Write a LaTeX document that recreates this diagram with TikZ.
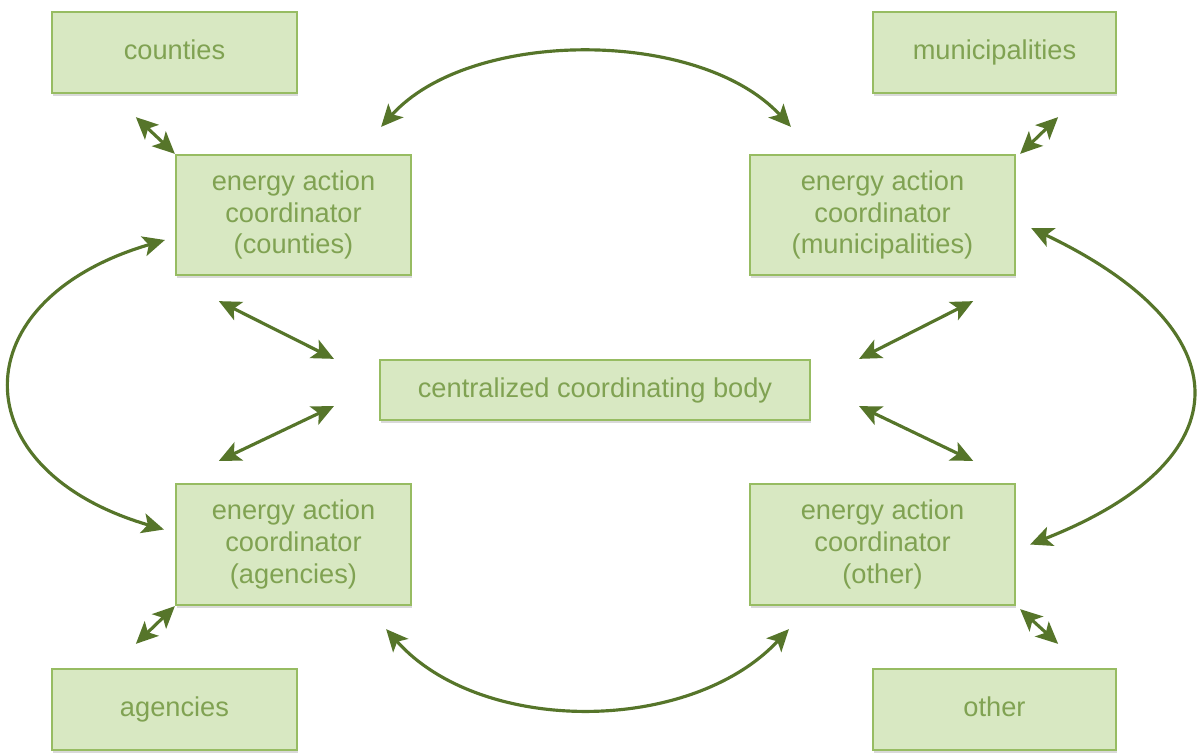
\documentclass[tikz,border=0pt]{standalone}
\usepackage{fontspec}
\setmainfont{Liberation Sans}
\usetikzlibrary{arrows.meta,shadows}

\definecolor{boxfill}{HTML}{D8E8C2}
\definecolor{boxline}{HTML}{97BC62}
\definecolor{boxtext}{HTML}{80A252}
\definecolor{arrowcol}{HTML}{56752A}

\tikzset{
    box/.style={draw=boxline, fill=boxfill, line width=1.3pt, text=boxtext,
        align=center, inner sep=2pt, font=\fontsize{15.5}{18}\selectfont,
        drop shadow={shadow xshift=0.6pt, shadow yshift=-1.6pt, opacity=0.3}},
    single/.style={box, text height=1.75ex, text depth=0.3ex,
        minimum height=1.62cm},
    link/.style={draw=arrowcol, line width=1.8pt,
        {Stealth[length=12.5pt,width=11.5pt,inset=3pt]}-{Stealth[length=12.5pt,width=11.5pt,inset=3pt]}}
}

\begin{document}
\begin{tikzpicture}[x=0.02cm, y=-0.02cm]

        \useasboundingbox (0,0) rectangle (1202,756);

        % Outer boxes
        \node[single, minimum width=4.9cm] (cnty) at (174.5,52.5) {counties};
        \node[single, minimum width=4.86cm] (muni) at (994.5,52.5) {municipalities};
        \node[single, minimum width=4.9cm] (agen) at (174.5,709.5) {agencies};
        \node[single, minimum width=4.86cm] (othr) at (994.5,709.5) {other};

        % Coordinators
        \node[box, minimum width=4.7cm, minimum height=2.4cm] (eacc) at (293.5,215) {energy action\\coordinator\\(counties)};
        \node[box, minimum width=5.3cm, minimum height=2.4cm] (eacm) at (882.5,215) {energy action\\coordinator\\(municipalities)};
        \node[box, minimum width=4.7cm, minimum height=2.42cm] (eaca) at (293.5,544.5) {energy action\\coordinator\\(agencies)};
        \node[box, minimum width=5.3cm, minimum height=2.42cm] (eaco) at (882.5,544.5) {energy action\\coordinator\\(other)};

        % Central body
        \node[box, minimum width=8.6cm, minimum height=1.2cm] (cent) at (595,390) {centralized coordinating body};

        % Short arrows
        \draw[link] ([shift={(85,23)}]cnty.south west) -- (eacc.north west);
        \draw[link] ([shift={(-59,23)}]muni.south east) -- ([shift={(4,0)}]eacm.north east);
        \draw[link] ([shift={(85,-24)}]agen.north west) -- (eaca.south west);
        \draw[link] ([shift={(-59,-24)}]othr.north east) -- ([shift={(4,3)}]eaco.south east);

        % To the central body
        \draw[link] ([shift={(44,25)}]eacc.south west) -- ([shift={(-45,0)}]cent.north west);
        \draw[link] ([shift={(44,-22)}]eaca.north west) -- ([shift={(-45,-15)}]cent.south west);
        \draw[link] ([shift={(-43,25)}]eacm.south east) -- ([shift={(48,0)}]cent.north east);
        \draw[link] ([shift={(-43,-22)}]eaco.north east) -- ([shift={(48,-15)}]cent.south east);

        % Curved arrows
        \draw[link] ([shift={(-31,-27)}]eacc.north east) .. controls (470,28) and (700,28) .. ([shift={(42,-27)}]eacm.north west);
        \draw[link] ([shift={(-26,23)}]eaca.south east) .. controls (480,735) and (690,735) .. ([shift={(40,23)}]eaco.south west);
        \draw[link] ([shift={(-10,25)}]eacc.west) .. controls (-40,300) and (-40,470) .. ([shift={(-11,-15)}]eaca.west);
        \draw[link] ([shift={(15,13)}]eacm.east) .. controls (1245,330) and (1245,460) .. ([shift={(14,0)}]eaco.east);

\end{tikzpicture}
\end{document}
